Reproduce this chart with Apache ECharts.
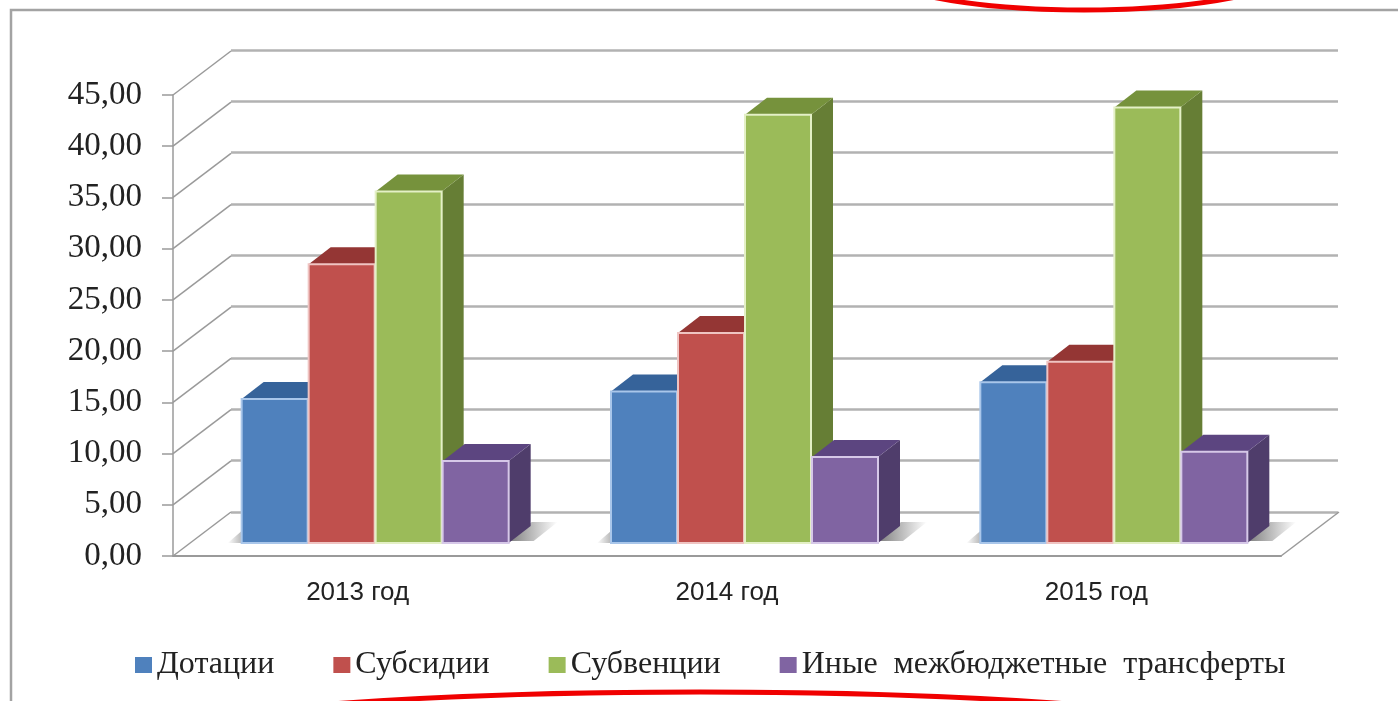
<!DOCTYPE html>
<html><head><meta charset="utf-8">
<style>html,body{margin:0;padding:0;background:#fff}#c{width:1398px;height:701px}</style>
<script src="https://cdn.jsdelivr.net/npm/echarts@6/dist/echarts.min.js"></script>
</head><body><div id="c"></div>
<script>
const categories = ['2013 год', '2014 год', '2015 год'];
const yTicks = [0, 5, 10, 15, 20, 25, 30, 35, 40, 45];
const dotacii = [14.05, 14.8, 15.7];
const subsidii = [27.2, 20.5, 17.7];
const subvencii = [34.3, 41.8, 42.5];
const inye = [8.0, 8.4, 8.9];
const seriesNames = ['Дотации', 'Субсидии', 'Субвенции', 'Иные  межбюджетные  трансферты'];

const colors = [
  {front:'#4f81bd', top:'#36639a', side:'#2f5784', edge:'#a9c6ea'},
  {front:'#c0504d', top:'#943634', side:'#7d2e2c', edge:'#efc4c2'},
  {front:'#9bbb59', top:'#76923c', side:'#667e35', edge:'#e4f0c6'},
  {front:'#8064a2', top:'#5c4580', side:'#4f3d6b', edge:'#d6c8e8'}
];
const DX = 22, DY = -17, BASE = -13, SHIFT = 18, BW = 67, WALL_DX = 58, WALL_DY = -44;
const AXC = '#9a9a9a', GRIDC = '#b2b2b2';

const chart = echarts.init(document.getElementById('c'));

function barRender(si) {
  return function (params, api) {
    const c = colors[si];
    const p0 = api.coord([api.value(0), 0]);
    const p1 = api.coord([api.value(0), api.value(1)]);
    const l = p0[0] + SHIFT + (si - 2) * BW, r = l + BW - 1;
    const b = p0[1] + BASE, t = p1[1] + BASE;
    return {type:'group', children:[
      {type:'polygon', shape:{points:[[r,b],[r+DX,b+DY],[r+DX,t+DY],[r,t]]}, style:{fill:c.side}},
      {type:'polygon', shape:{points:[[l,t],[l+DX,t+DY],[r+DX,t+DY],[r,t]]}, style:{fill:c.top}},
      {type:'rect', shape:{x:l, y:t, width:r-l, height:b-t}, style:{fill:c.front, stroke:c.edge, lineWidth:2}}
    ]};
  };
}

const barData = [dotacii, subsidii, subvencii, inye];
const barSeries = barData.map((vals, si) => ({
  name: seriesNames[si], type:'custom', xAxisIndex:0, yAxisIndex:0,
  itemStyle:{color:colors[si].front}, z:5 + si,
  encode:{x:0, y:1}, renderItem:barRender(si),
  data: vals.map((v, i) => [i, v])
}));

const option = {
  animation:false,
  backgroundColor:'#fff',
  graphic:[
    {type:'rect', z:0, shape:{x:11, y:10, width:1600, height:900}, style:{fill:'none', stroke:'#a3a3a3', lineWidth:2.5}},
    {type:'ellipse', z:100, shape:{cx:1084, cy:-38, rx:222, ry:48}, style:{fill:'none', stroke:'#f00000', lineWidth:5}},
    {type:'ellipse', z:100, shape:{cx:700, cy:752, rx:612, ry:60}, style:{fill:'none', stroke:'#f00000', lineWidth:5}}
  ],
  legend:{
    left:130, top:644, itemWidth:17, itemHeight:16, itemGap:59,
    data: seriesNames.map(n => ({name:n, icon:'rect'})),
    textStyle:{fontFamily:'Liberation Serif', fontSize:32, color:'#222'},
    selectedMode:false
  },
  grid:[
    {left:173, right:117, top:95, bottom:145},
    {left:231, right:60, top:50, bottom:189}
  ],
  xAxis:[
    {type:'category', gridIndex:0, data:categories,
     axisLine:{lineStyle:{color:AXC, width:2}},
     axisTick:{length:9, lineStyle:{color:AXC, width:1.5}},
     axisLabel:{fontFamily:'Liberation Sans', fontSize:26, color:'#222', margin:24}},
    {type:'category', gridIndex:1, data:categories, show:false}
  ],
  yAxis:[
    {type:'value', gridIndex:0, min:0, max:45, interval:5,
     axisLine:{show:true, lineStyle:{color:AXC, width:1.5}},
     axisTick:{show:true, length:11, lineStyle:{color:AXC, width:1.5}},
     splitLine:{show:false},
     axisLabel:{fontFamily:'Liberation Serif', fontSize:33, color:'#222', margin:31, padding:[4,0,0,0],
       formatter:v => v.toFixed(2).replace('.', ',')}},
    {type:'value', gridIndex:1, min:0, max:45, interval:5,
     axisLine:{show:false}, axisTick:{show:false}, axisLabel:{show:false},
     splitLine:{show:true, lineStyle:{color:GRIDC, width:2.5}}}
  ],
  series:[
    {type:'custom', xAxisIndex:0, yAxisIndex:0, z:1, silent:true,
     encode:{y:0},
     renderItem(params, api){
       const cs = params.coordSys;
       const y = api.coord([0, api.value(0)])[1];
       return {type:'line', shape:{x1:cs.x, y1:y, x2:cs.x+WALL_DX, y2:y+WALL_DY},
               style:{stroke:AXC, lineWidth:1.5, fill:'none'}};
     },
     data: yTicks.map(v => [v])},
    {type:'custom', xAxisIndex:0, yAxisIndex:0, z:1, silent:true,
     encode:{y:0},
     renderItem(params, api){
       const cs = params.coordSys;
       const y = api.coord([0, api.value(0)])[1];
       return {type:'line', shape:{x1:cs.x+cs.width, y1:y, x2:cs.x+cs.width+WALL_DX, y2:y+WALL_DY},
               style:{stroke:AXC, lineWidth:1.5, fill:'none'}};
     },
     data: [[0]]},
    {type:'custom', xAxisIndex:0, yAxisIndex:0, z:2, silent:true,
     encode:{x:0},
     renderItem(params, api){
       const p0 = api.coord([api.value(0), 0]);
       const xl = p0[0] + SHIFT - 2*BW, xr = p0[0] + SHIFT + 2*BW;
       const b = p0[1] + BASE;
       return {type:'group', children:[
         {type:'polygon', shape:{points:[[xl-14,b],[xl,b-12],[xl,b]]},
          style:{fill:new echarts.graphic.LinearGradient(0,0,1,0,[{offset:0,color:'#ffffff'},{offset:1,color:'#b8b8b8'}])}},
         {type:'polygon', shape:{points:[[xr,b-2],[xr+DX,b+DY-4],[xr+48,b+DY-4],[xr+24,b-2]]},
          style:{fill:new echarts.graphic.LinearGradient(0,0,1,0,[{offset:0,color:'#808080'},{offset:1,color:'#ffffff'}])}}
       ]};
     },
     data: categories.map((c, i) => [i])},
    ...barSeries
  ]
};
chart.setOption(option);
</script></body></html>
